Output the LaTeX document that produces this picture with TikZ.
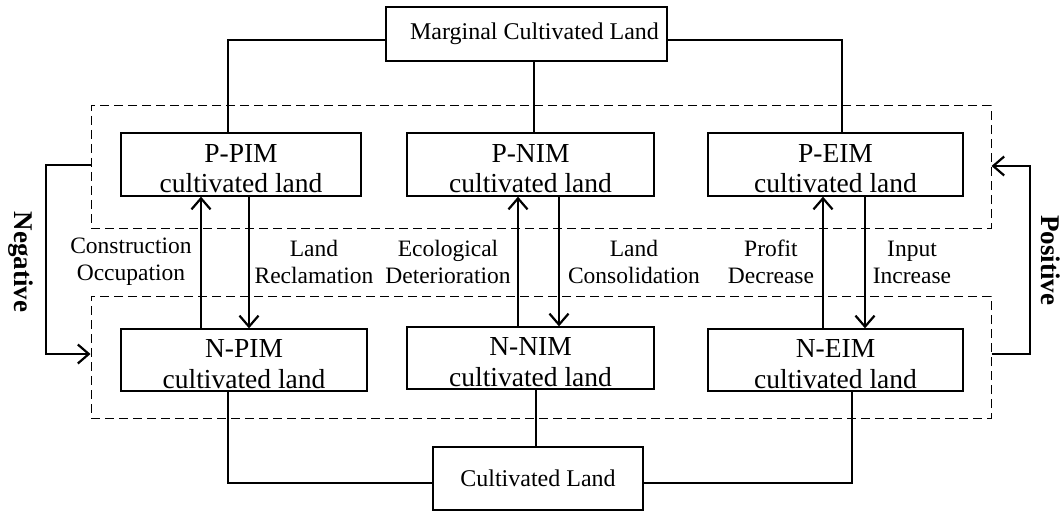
\documentclass[tikz,border=0pt]{standalone}
\usepackage{fontspec}
\setmainfont{Liberation Serif}
\usetikzlibrary{arrows.meta}
\newcommand{\boxtext}[2]{\raisebox{2.5pt}[0pt][0pt]{\begin{tabular}[t]{@{}c@{}}#1\\#2\end{tabular}}}
\begin{document}
\begin{tikzpicture}[x=1pt,y=-1pt,
  box/.style={draw,line width=1.3pt,fill=white,inner sep=0pt,font=\fontsize{27.5}{30.5}\selectfont},
  topbox/.style={draw,line width=1.3pt,fill=white,inner sep=0pt,font=\fontsize{24}{28}\selectfont},
  dashrect/.style={draw,line width=1pt,dash pattern=on 9pt off 5pt,inner sep=0pt},
  conn/.style={line width=1.3pt},
  arr/.style={line width=2.2pt,-{Straight Barb[length=11pt,width=19pt,line width=2.2pt]}},
  lbl/.style={align=center,font=\fontsize{23.5}{27}\selectfont,inner sep=0pt},
  side/.style={font=\fontsize{27}{30}\selectfont\bfseries,rotate=-90,anchor=base,inner sep=0pt}]
\useasboundingbox (0,0) rectangle (1061,511);
% dashed groups
\node[dashrect,minimum width=900pt,minimum height=122pt] (up) at (541,167) {};
\node[dashrect,minimum width=900pt,minimum height=122pt] (low) at (541,357) {};
% top and bottom boxes
\node[topbox,minimum width=281pt,minimum height=54pt] (marg) at (526.5,34) {\hspace*{16pt}Marginal Cultivated Land};
\node[topbox,minimum width=210pt,minimum height=63pt] (cult) at (538,478.5) {Cultivated Land};
% upper boxes
\node[box,minimum width=240pt,minimum height=63pt] (ppim) at (241,164.5) {\boxtext{P-PIM}{cultivated land}};
\node[box,minimum width=247pt,minimum height=63pt] (pnim) at (530.5,164.5) {\boxtext{P-NIM}{cultivated land}};
\node[box,minimum width=255pt,minimum height=63pt] (peim) at (835.5,164.5) {\boxtext{P-EIM}{cultivated land}};
% lower boxes
\node[box,minimum width=246pt,minimum height=62pt] (npim) at (244,360) {\boxtext{N-PIM}{cultivated land}};
\node[box,minimum width=247pt,minimum height=62pt] (nnim) at (530.5,358) {\boxtext{N-NIM}{cultivated land}};
\node[box,minimum width=255pt,minimum height=62pt] (neim) at (835.5,360) {\boxtext{N-EIM}{cultivated land}};
% connectors to marginal
\coordinate (m1) at (228,40);
\coordinate (m2) at (842,40);
\coordinate (m3) at (534,0);
\draw[conn] (marg.west |- m1) -| (ppim.north -| m1);
\draw[conn] (marg.east |- m2) -| (peim.north -| m2);
\draw[conn] (marg.south -| m3) -- (pnim.north -| m3);
% connectors to cultivated
\coordinate (c1) at (228,483);
\coordinate (c2) at (852,483);
\coordinate (c3) at (536,0);
\draw[conn] (cult.west |- c1) -| (npim.south -| c1);
\draw[conn] (cult.east |- c2) -| (neim.south -| c2);
\draw[conn] (cult.north -| c3) -- (nnim.south -| c3);
% vertical arrows
\coordinate (a1) at (201,0); \coordinate (a2) at (249,0);
\coordinate (a3) at (518,0); \coordinate (a4) at (559,0);
\coordinate (a5) at (823,0); \coordinate (a6) at (865,0);
\draw[arr] (npim.north -| a1) -- (ppim.south -| a1);
\draw[arr] (ppim.south -| a2) -- (npim.north -| a2);
\draw[arr] (nnim.north -| a3) -- (pnim.south -| a3);
\draw[arr] (pnim.south -| a4) -- (nnim.north -| a4);
\draw[arr] (neim.north -| a5) -- (peim.south -| a5);
\draw[arr] (peim.south -| a6) -- (neim.north -| a6);
% labels
\node[lbl] (l1) at (131,262) {Construction\\Occupation};
\node[lbl] (l2) at (314,262) {Land\\Reclamation};
\node[lbl] (l3) at (448,262) {Ecological\\Deterioration};
\node[lbl] (l4) at (634,262) {Land\\Consolidation};
\node[lbl] (l5) at (771,262) {Profit\\Decrease};
\node[lbl] (l6) at (912,262) {Input\\Increase};
% side feedback arrows
\coordinate (n1) at (46,165); \coordinate (n2) at (46,354);
\coordinate (p1) at (1030,166); \coordinate (p2) at (1030,354);
\draw[arr] (up.west |- n1) -- (n1) -- (n2) -- (low.west |- n2);
\draw[arr] (low.east |- p2) -- (p2) -- (p1) -- (up.east |- p1);
\node[side] (neg) at (15,262) {Negative};
\node[side] (pos) at (1041,260) {Positive};
\end{tikzpicture}
\end{document}
